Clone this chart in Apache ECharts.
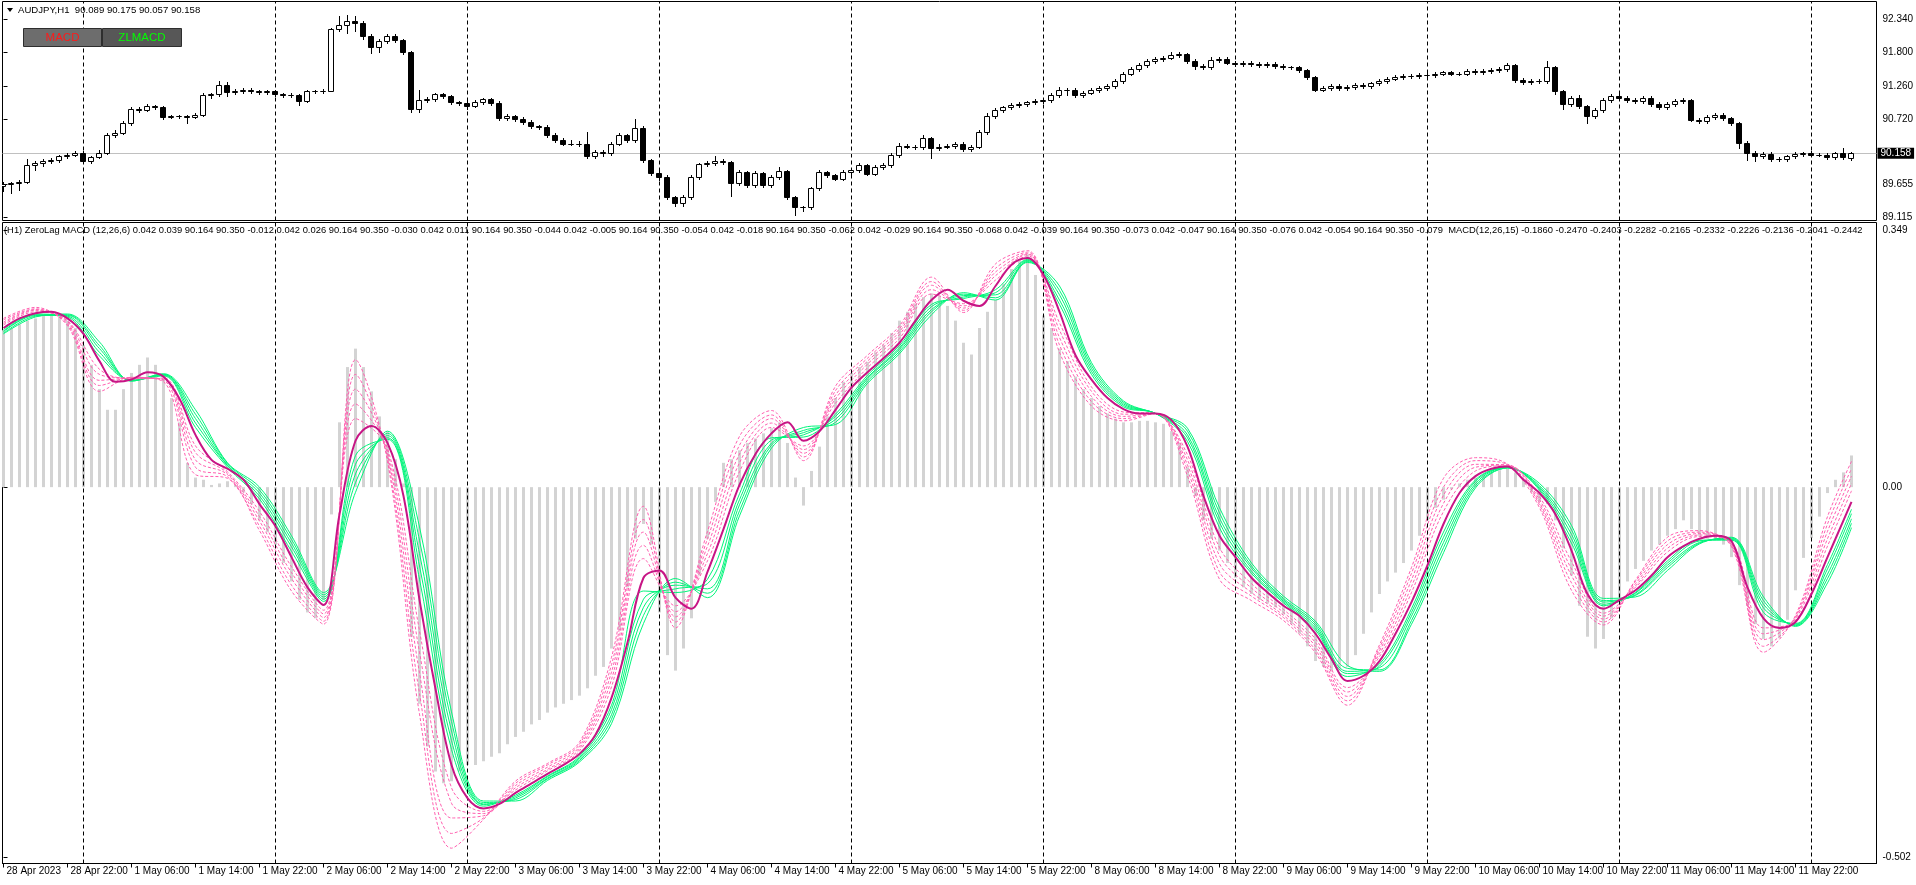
<!DOCTYPE html>
<html><head><meta charset="utf-8">
<script src="https://cdn.jsdelivr.net/npm/echarts@6/dist/echarts.min.js"></script>
<style>html,body{margin:0;padding:0;background:#fff;}#chart{width:1916px;height:885px;}</style>
</head><body><div id="chart"></div>
<script>
// ---------------- DATA ----------------
const symbolTitle = 'AUDJPY,H1';
const lastOHLC = ['90.089', '90.175', '90.057', '90.158'];
const currentPrice = 90.158;

// x-axis tick labels (every 8 H1 bars), bar index of each label
const tickBars = [0,8,16,24,32,40,48,56,64,72,80,88,96,104,112,120,128,136,144,152,160,168,176,184,192,200,208,216,224];
const timeLabels = ['28 Apr 2023','28 Apr 22:00','1 May 06:00','1 May 14:00','1 May 22:00','2 May 06:00','2 May 14:00','2 May 22:00','3 May 06:00','3 May 14:00','3 May 22:00','4 May 06:00','4 May 14:00','4 May 22:00','5 May 06:00','5 May 14:00','5 May 22:00','8 May 06:00','8 May 14:00','8 May 22:00','9 May 06:00','9 May 14:00','9 May 22:00','10 May 06:00','10 May 14:00','10 May 22:00','11 May 06:00','11 May 14:00','11 May 22:00'];
// day separators (bar index of 00:00 of each day)
const daySeparators = [10,34,58,82,106,130,154,178,202,226];

const priceTicks = [92.340, 91.800, 91.260, 90.720, 89.655, 89.115];
const macdTicks = [0.349, 0, -0.502];
const macdTickLabels = ['0.349', '0.00', '-0.502'];

const opens = [
89.63,89.66,89.68,89.70,89.97,90.00,90.04,90.06,90.11,90.14,
90.17,90.04,90.10,90.17,90.46,90.49,90.65,90.88,90.87,90.93,
90.91,90.76,90.77,90.77,90.76,90.79,91.11,91.12,91.27,91.16,
91.18,91.20,91.18,91.16,91.17,91.12,91.11,91.11,91.01,91.17,
91.18,91.18,92.18,92.26,92.31,92.29,92.08,91.90,91.99,92.07,
92.00,91.81,90.89,91.03,91.04,91.12,91.09,91.00,90.98,90.94,
91.00,91.04,90.98,90.73,90.77,90.72,90.67,90.61,90.59,90.46,
90.38,90.32,90.32,90.31,90.12,90.19,90.16,90.32,90.46,90.38,
90.57,90.05,89.84,89.78,89.45,89.35,89.45,89.78,89.98,90.00,
90.04,90.02,89.68,89.86,89.64,89.84,89.64,89.78,89.87,89.45,
89.29,89.28,89.60,89.86,89.81,89.75,89.86,89.89,89.97,89.83,
89.94,89.97,90.13,90.28,90.27,90.26,90.41,90.24,90.27,90.28,
90.32,90.23,90.27,90.51,90.77,90.87,90.91,90.95,90.97,90.99,
91.01,91.03,91.11,91.20,91.19,91.11,91.15,91.19,91.22,91.26,
91.34,91.46,91.54,91.60,91.66,91.70,91.72,91.76,91.78,91.66,
91.58,91.56,91.68,91.70,91.64,91.62,91.64,91.62,91.60,91.62,
91.58,91.56,91.56,91.52,91.40,91.20,91.22,91.26,91.22,91.24,
91.28,91.26,91.30,91.34,91.38,91.40,91.42,91.42,91.44,91.44,
91.46,91.48,91.46,91.46,91.50,91.48,91.50,91.52,91.54,91.60,
91.36,91.32,91.34,91.34,91.56,91.17,90.97,91.07,90.93,90.77,
90.87,91.03,91.09,91.07,91.03,91.01,91.07,90.97,90.91,90.97,
91.01,91.03,90.71,90.69,90.75,90.79,90.73,90.65,90.33,90.17,
90.11,90.15,90.07,90.07,90.11,90.15,90.16,90.14,90.14,90.10,
90.16,90.089];

const closes = [
89.66,89.68,89.70,89.97,90.00,90.04,90.06,90.11,90.14,90.17,
90.04,90.10,90.17,90.46,90.49,90.65,90.88,90.87,90.93,90.91,
90.76,90.77,90.77,90.76,90.79,91.11,91.12,91.27,91.16,91.18,
91.20,91.18,91.16,91.17,91.12,91.11,91.11,91.01,91.17,91.18,
91.18,92.18,92.26,92.31,92.29,92.08,91.90,91.99,92.07,92.00,
91.81,90.89,91.03,91.04,91.12,91.09,91.00,90.98,90.94,91.00,
91.04,90.98,90.73,90.77,90.72,90.67,90.61,90.59,90.46,90.38,
90.32,90.32,90.31,90.12,90.19,90.16,90.32,90.46,90.38,90.57,
90.05,89.84,89.78,89.45,89.35,89.45,89.78,89.98,90.00,90.04,
90.02,89.68,89.86,89.64,89.84,89.64,89.78,89.87,89.45,89.29,
89.28,89.60,89.86,89.81,89.75,89.86,89.89,89.97,89.83,89.94,
89.97,90.13,90.28,90.27,90.26,90.41,90.24,90.27,90.28,90.32,
90.23,90.27,90.51,90.77,90.87,90.91,90.95,90.97,90.99,91.01,
91.03,91.11,91.20,91.19,91.11,91.15,91.19,91.22,91.26,91.34,
91.46,91.54,91.60,91.66,91.70,91.72,91.76,91.78,91.66,91.58,
91.56,91.68,91.70,91.64,91.62,91.64,91.62,91.60,91.62,91.58,
91.56,91.56,91.52,91.40,91.20,91.22,91.26,91.22,91.24,91.28,
91.26,91.30,91.34,91.38,91.40,91.42,91.42,91.44,91.44,91.46,
91.48,91.46,91.46,91.50,91.48,91.50,91.52,91.54,91.60,91.36,
91.32,91.34,91.34,91.56,91.17,90.97,91.07,90.93,90.77,90.87,
91.03,91.09,91.07,91.03,91.01,91.07,90.97,90.91,90.97,91.01,
91.03,90.71,90.69,90.75,90.79,90.73,90.65,90.33,90.17,90.11,
90.15,90.07,90.07,90.11,90.15,90.16,90.14,90.14,90.10,90.16,
90.10,90.158];

// upper / lower wick lengths above/below the body, in hundredths of a yen
const wickUp = [
3,2,2,10,4,3,3,2,3,3, 3,2,4,3,5,3,3,3,3,2, 2,2,2,2,3,3,3,7,5,3, 3,3,2,2,3,2,4,2,3,2,
3,2,14,11,9,2,2,3,3,3, 2,2,17,4,3,2,2,2,3,3, 3,2,3,3,2,3,3,2,3,3, 3,6,4,20,3,3,3,3,2,15,
3,2,3,2,2,3,3,3,3,8, 3,2,3,2,3,2,3,7,2,2, 2,2,3,2,2,3,3,3,2,3, 3,3,5,3,3,5,2,5,3,3,
3,3,3,5,3,3,3,3,3,3, 3,3,4,3,3,3,3,3,3,3, 3,3,3,3,3,3,5,4,2,3, 3,5,3,3,3,3,3,3,3,3,
3,3,3,2,2,3,3,3,3,3, 3,3,3,3,3,3,3,3,3,3, 3,3,3,3,3,3,3,3,4,2, 3,3,3,10,2,3,3,4,2,3,
3,3,3,3,3,3,3,3,3,3, 3,2,3,3,3,2,2,2,3,3, 3,3,3,3,3,3,4,2,3,3, 8,2];
const wickDn = [
8,15,12,3,8,4,4,4,3,3, 3,4,2,2,3,2,2,3,2,2, 4,3,3,10,3,2,4,3,7,4, 3,3,3,3,3,3,3,6,2,3,
3,1,3,14,13,5,10,8,3,3, 3,5,5,3,2,3,3,3,5,3, 3,3,3,3,3,3,3,3,3,3, 3,3,3,3,3,4,3,3,3,3,
3,4,5,3,4,4,3,3,3,3, 3,22,3,3,3,3,3,3,3,14, 6,2,3,3,3,3,3,3,3,3, 3,3,3,3,3,3,15,3,3,3,
3,3,3,3,3,3,3,3,3,3, 3,3,3,8,3,3,3,3,3,3, 3,3,3,3,3,3,3,3,3,4, 3,3,3,3,3,3,3,3,3,3,
3,3,3,3,3,3,3,3,3,3, 3,3,3,3,3,3,3,3,3,3, 3,3,3,3,3,3,3,3,3,4, 3,3,3,3,4,8,3,3,12,3,
3,3,3,3,3,3,3,3,3,3, 3,3,3,3,3,3,3,8,12,8, 3,3,3,3,3,3,3,3,3,3, 3,3];

// histogram (per bar)
const histogram = [
0.213,0.216,0.221,0.226,0.229,0.233,0.233,0.233,0.226,0.216,
0.193,0.166,0.133,0.105,0.105,0.133,0.155,0.166,0.176,0.166,
0.146,0.121,0.088,0.033,0.013,0.010,0.003,0.005,0.008,0.003,
-0.007,-0.023,-0.045,-0.061,-0.078,-0.103,-0.128,-0.153,-0.170,-0.178,
-0.153,-0.037,0.088,0.163,0.188,0.163,0.130,0.096,0.076,0.038,
0.005,-0.203,-0.294,-0.352,-0.386,-0.402,-0.399,-0.386,-0.377,-0.377,
-0.372,-0.366,-0.361,-0.349,-0.339,-0.332,-0.322,-0.316,-0.306,-0.299,
-0.294,-0.289,-0.283,-0.273,-0.256,-0.244,-0.219,-0.194,-0.136,-0.070,
-0.050,-0.078,-0.170,-0.228,-0.249,-0.219,-0.178,-0.120,-0.070,-0.020,
0.033,0.038,0.050,0.060,0.066,0.073,0.080,0.088,0.060,0.013,
-0.025,0.022,0.055,0.096,0.121,0.143,0.155,0.163,0.170,0.183,
0.193,0.209,0.226,0.238,0.249,0.258,0.263,0.259,0.246,0.226,
0.196,0.180,0.216,0.238,0.254,0.276,0.296,0.309,0.316,0.288,
0.233,0.216,0.188,0.171,0.150,0.133,0.121,0.110,0.100,0.093,
0.088,0.088,0.090,0.090,0.088,0.086,0.076,0.060,0.027,-0.012,
-0.045,-0.070,-0.086,-0.103,-0.123,-0.136,-0.145,-0.153,-0.158,-0.163,
-0.173,-0.186,-0.199,-0.216,-0.236,-0.244,-0.249,-0.249,-0.244,-0.228,
-0.199,-0.170,-0.145,-0.128,-0.116,-0.103,-0.086,-0.066,-0.045,-0.028,
-0.017,-0.003,0.005,0.010,0.013,0.017,0.020,0.023,0.025,0.020,
0.010,-0.007,-0.020,-0.023,-0.045,-0.083,-0.120,-0.161,-0.203,-0.219,
-0.206,-0.178,-0.150,-0.128,-0.111,-0.100,-0.086,-0.078,-0.066,-0.057,
-0.045,-0.057,-0.066,-0.070,-0.070,-0.078,-0.095,-0.133,-0.161,-0.186,
-0.206,-0.216,-0.205,-0.180,-0.140,-0.096,-0.069,-0.040,-0.008,0.010,
0.020,0.043];

// main ZeroLag MACD line, [bar, value]
const zlMain = [[0,0.216],[2,0.229],[4,0.236],[6,0.238],[8,0.229],[10,0.208],[12,0.171],[14,0.143],[16,0.146],[18,0.156],[20,0.150],[22,0.120],[24,0.071],[26,0.037],[28,0.025],[30,0.010],[32,-0.023],[34,-0.053],[36,-0.095],[38,-0.136],[40,-0.160],[42,-0.037],[44,0.063],[46,0.083],[48,0.060],[50,-0.012],[52,-0.153],[54,-0.274],[56,-0.377],[58,-0.422],[60,-0.436],[62,-0.430],[64,-0.415],[66,-0.402],[68,-0.389],[70,-0.377],[72,-0.362],[74,-0.336],[76,-0.286],[78,-0.211],[80,-0.123],[82,-0.113],[84,-0.150],[86,-0.165],[88,-0.115],[90,-0.057],[92,0.003],[94,0.045],[96,0.073],[98,0.088],[100,0.063],[102,0.076],[104,0.105],[106,0.135],[108,0.156],[110,0.175],[112,0.196],[114,0.226],[116,0.254],[118,0.268],[120,0.253],[122,0.246],[124,0.273],[126,0.302],[128,0.311],[130,0.288],[132,0.238],[134,0.179],[136,0.146],[138,0.121],[140,0.106],[142,0.100],[144,0.100],[146,0.091],[148,0.055],[150,-0.012],[152,-0.066],[154,-0.095],[156,-0.123],[158,-0.143],[160,-0.161],[162,-0.175],[164,-0.199],[166,-0.233],[168,-0.263],[170,-0.256],[172,-0.236],[174,-0.199],[176,-0.156],[178,-0.106],[180,-0.050],[182,-0.008],[184,0.015],[186,0.025],[188,0.028],[190,0.010],[192,-0.008],[194,-0.037],[196,-0.086],[198,-0.145],[200,-0.165],[202,-0.153],[204,-0.140],[206,-0.120],[208,-0.095],[210,-0.080],[212,-0.070],[214,-0.066],[216,-0.073],[218,-0.136],[220,-0.178],[222,-0.191],[224,-0.183],[226,-0.145],[228,-0.095],[230,-0.045],[231,-0.020]];

// signal lines sampled every 4 bars
const sigBars = [0,4,8,12,16,20,24,28,32,36,40,44,48,52,56,60,64,68,72,76,80,84,88,92,96,100,104,108,112,116,120,124,128,132,136,140,144,148,152,156,160,164,168,172,176,180,184,188,192,196,200,204,208,212,216,220,224,228,231];
const green1 = [0.214,0.235,0.231,0.178,0.145,0.151,0.081,0.027,-0.016,-0.087,-0.155,0.043,0.065,-0.125,-0.356,-0.433,-0.418,-0.392,-0.365,-0.296,-0.141,-0.143,-0.125,-0.009,0.067,0.068,0.099,0.152,0.192,0.248,0.256,0.268,0.309,0.248,0.153,0.109,0.100,0.062,-0.055,-0.117,-0.157,-0.194,-0.257,-0.240,-0.165,-0.061,0.010,0.027,-0.004,-0.076,-0.161,-0.143,-0.100,-0.072,-0.072,-0.170,-0.185,-0.105,-0.030];
const green2 = [0.212,0.234,0.232,0.183,0.145,0.152,0.087,0.029,-0.012,-0.081,-0.152,0.031,0.067,-0.107,-0.344,-0.431,-0.420,-0.393,-0.367,-0.302,-0.152,-0.138,-0.131,-0.017,0.064,0.071,0.096,0.149,0.189,0.245,0.258,0.264,0.308,0.254,0.157,0.111,0.100,0.067,-0.048,-0.114,-0.155,-0.191,-0.253,-0.243,-0.170,-0.068,0.008,0.027,-0.002,-0.070,-0.159,-0.144,-0.103,-0.073,-0.071,-0.164,-0.186,-0.111,-0.036];
const green3 = [0.211,0.233,0.233,0.188,0.145,0.153,0.093,0.030,-0.008,-0.076,-0.149,0.018,0.070,-0.090,-0.331,-0.430,-0.422,-0.395,-0.369,-0.309,-0.163,-0.133,-0.138,-0.024,0.060,0.074,0.092,0.147,0.187,0.241,0.260,0.261,0.307,0.261,0.161,0.113,0.100,0.071,-0.042,-0.110,-0.153,-0.188,-0.250,-0.245,-0.175,-0.075,0.005,0.027,0.000,-0.064,-0.156,-0.146,-0.106,-0.075,-0.070,-0.159,-0.187,-0.118,-0.043];
const green4 = [0.209,0.232,0.234,0.192,0.144,0.153,0.099,0.032,-0.004,-0.071,-0.146,0.006,0.073,-0.072,-0.318,-0.428,-0.424,-0.396,-0.371,-0.315,-0.174,-0.129,-0.144,-0.032,0.057,0.077,0.088,0.144,0.184,0.238,0.262,0.257,0.306,0.267,0.165,0.115,0.100,0.076,-0.035,-0.107,-0.151,-0.185,-0.246,-0.248,-0.181,-0.082,0.002,0.026,0.002,-0.058,-0.154,-0.147,-0.109,-0.076,-0.069,-0.154,-0.188,-0.124,-0.049];
const green5 = [0.208,0.231,0.235,0.197,0.144,0.154,0.105,0.033,0.000,-0.066,-0.143,-0.007,0.076,-0.054,-0.305,-0.426,-0.426,-0.398,-0.373,-0.321,-0.185,-0.124,-0.150,-0.039,0.053,0.081,0.085,0.141,0.181,0.234,0.264,0.254,0.305,0.273,0.169,0.117,0.100,0.080,-0.028,-0.103,-0.148,-0.182,-0.242,-0.250,-0.186,-0.089,-0.001,0.026,0.005,-0.052,-0.151,-0.149,-0.113,-0.077,-0.068,-0.149,-0.189,-0.130,-0.055];
const pink1 = [0.220,0.238,0.226,0.160,0.147,0.148,0.056,0.021,-0.033,-0.108,-0.167,0.093,0.053,-0.195,-0.408,-0.440,-0.411,-0.385,-0.358,-0.271,-0.097,-0.161,-0.100,0.021,0.081,0.056,0.114,0.162,0.202,0.262,0.249,0.281,0.314,0.223,0.136,0.102,0.100,0.044,-0.082,-0.131,-0.166,-0.206,-0.272,-0.230,-0.143,-0.033,0.022,0.029,-0.013,-0.101,-0.171,-0.136,-0.088,-0.067,-0.075,-0.191,-0.181,-0.080,-0.005];
const pink2 = [0.222,0.240,0.225,0.153,0.148,0.147,0.047,0.019,-0.040,-0.116,-0.172,0.113,0.049,-0.224,-0.429,-0.443,-0.408,-0.383,-0.355,-0.261,-0.079,-0.169,-0.090,0.033,0.087,0.051,0.120,0.167,0.207,0.268,0.246,0.287,0.316,0.213,0.130,0.099,0.100,0.037,-0.093,-0.137,-0.170,-0.211,-0.278,-0.226,-0.135,-0.022,0.027,0.030,-0.017,-0.111,-0.175,-0.134,-0.083,-0.065,-0.077,-0.199,-0.179,-0.070,0.005];
const pink3 = [0.224,0.241,0.223,0.145,0.148,0.146,0.037,0.017,-0.046,-0.124,-0.177,0.133,0.044,-0.252,-0.449,-0.446,-0.405,-0.380,-0.352,-0.251,-0.061,-0.176,-0.080,0.045,0.093,0.046,0.125,0.171,0.211,0.274,0.243,0.292,0.317,0.203,0.123,0.096,0.100,0.030,-0.104,-0.143,-0.174,-0.216,-0.284,-0.222,-0.126,-0.011,0.031,0.030,-0.021,-0.120,-0.179,-0.131,-0.078,-0.063,-0.078,-0.207,-0.177,-0.060,0.015];
const pink4 = [0.227,0.242,0.221,0.138,0.149,0.145,0.027,0.014,-0.053,-0.133,-0.182,0.153,0.039,-0.280,-0.470,-0.449,-0.402,-0.377,-0.349,-0.241,-0.044,-0.183,-0.070,0.057,0.098,0.041,0.131,0.175,0.215,0.279,0.240,0.297,0.319,0.193,0.116,0.093,0.100,0.023,-0.115,-0.148,-0.177,-0.221,-0.290,-0.218,-0.117,0.000,0.036,0.031,-0.024,-0.130,-0.183,-0.128,-0.073,-0.061,-0.079,-0.216,-0.176,-0.050,0.025];
const pink5 = [0.229,0.244,0.219,0.130,0.149,0.143,0.017,0.012,-0.059,-0.141,-0.186,0.173,0.035,-0.308,-0.490,-0.451,-0.399,-0.375,-0.346,-0.231,-0.026,-0.191,-0.060,0.069,0.104,0.036,0.137,0.179,0.219,0.285,0.237,0.303,0.321,0.183,0.110,0.090,0.100,0.015,-0.125,-0.154,-0.181,-0.225,-0.296,-0.214,-0.109,0.012,0.040,0.031,-0.028,-0.140,-0.187,-0.126,-0.068,-0.059,-0.081,-0.224,-0.174,-0.040,0.035];

const zlHeaderName = '(H1) ZeroLag MACD (12,26,6)';
const zlHeaderValues = ['0.042','0.039','90.164','90.350','-0.012','0.042','0.026','90.164','90.350','-0.030','0.042','0.011','90.164','90.350','-0.044','0.042','-0.005','90.164','90.350','-0.054','0.042','-0.018','90.164','90.350','-0.062','0.042','-0.029','90.164','90.350','-0.068','0.042','-0.039','90.164','90.350','-0.073','0.042','-0.047','90.164','90.350','-0.076','0.042','-0.054','90.164','90.350','-0.079'];
const macdHeaderName = 'MACD(12,26,15)';
const macdHeaderValues = ['-0.1860','-0.2470','-0.2403','-0.2282','-0.2165','-0.2332','-0.2226','-0.2136','-0.2041','-0.2442'];

// ---------------- CHECKS ----------------
const nBars = closes.length;
[['opens',opens],['wickUp',wickUp],['wickDn',wickDn],['histogram',histogram]].forEach(([n,a]) => {
  if (a.length !== nBars) throw new Error(n + ' length ' + a.length + ' != ' + nBars);
});
const greens = [green1, green2, green3, green4, green5];
const pinks = [pink1, pink2, pink3, pink4, pink5];
greens.concat(pinks).forEach((a, k) => {
  if (a.length !== sigBars.length) throw new Error('signal ' + k + ' length ' + a.length);
});

// ---------------- CHART ----------------
const FONT = 'Liberation Sans';
const candleData = closes.map((c, i) => [i, opens[i], c,
  Math.min(opens[i], c) - wickDn[i] / 100, Math.max(opens[i], c) + wickUp[i] / 100]);

const X_MIN = -0.125, X_MAX = 234.125;
const sepLines = daySeparators.map(b => ({ xAxis: b }));
const sepStyle = { color: '#000', width: 1, type: [4, 3] };

const chart = echarts.init(document.getElementById('chart'), null, { renderer: 'canvas' });

const series = [];
// candles
series.push({
  type: 'custom', name: 'AUDJPY', xAxisIndex: 0, yAxisIndex: 0, clip: true, z: 5,
  data: candleData, encode: { x: 0, y: [1, 2, 3, 4] },
  renderItem: function (params, api) {
    const i = api.value(0), o = api.value(1), c = api.value(2), l = api.value(3), h = api.value(4);
    const pO = api.coord([i, o]), pC = api.coord([i, c]), pL = api.coord([i, l]), pH = api.coord([i, h]);
    const x = Math.round(pO[0] - 0.5) + 0.5;
    const y1 = Math.round(Math.min(pO[1], pC[1])) + 0.5;
    const y2 = Math.round(Math.max(pO[1], pC[1])) + 0.5;
    const up = c >= o;
    return {
      type: 'group',
      children: [
        { type: 'line', shape: { x1: x, y1: Math.round(pH[1]), x2: x, y2: Math.round(pL[1]) + 1 },
          style: { stroke: '#000', lineWidth: 1 } },
        { type: 'rect', shape: { x: x - 3, y: y1, width: 5, height: y2 - y1 },
          style: { fill: up ? '#fff' : '#000', stroke: '#000', lineWidth: 1 } }
      ]
    };
  }
});
// price line + day separators in price pane
series.push({
  type: 'line', xAxisIndex: 0, yAxisIndex: 0, data: [[0, currentPrice]], showSymbol: false, symbol: 'none',
  lineStyle: { width: 0 }, silent: true, z: 1,
  markLine: {
    silent: true, symbol: ['none', 'none'], animation: false,
    data: [
      ...sepLines.map(d => Object.assign({ lineStyle: sepStyle, label: { show: false } }, d)),
      { yAxis: currentPrice, lineStyle: { color: '#c0c0c0', width: 1, type: 'solid' },
        label: { show: true, position: 'end', formatter: currentPrice.toFixed(3), color: '#fff',
          backgroundColor: '#000', padding: [1, 3, 0, 3], fontSize: 10, fontFamily: FONT, distance: 1 } }
    ]
  }
});
// histogram
series.push({
  type: 'bar', xAxisIndex: 1, yAxisIndex: 1, barWidth: 3, z: 1,
  data: histogram.map((v, i) => [i, v]), itemStyle: { color: '#d3d3d3' }, silent: true,
  markLine: { silent: true, symbol: ['none', 'none'], animation: false,
    data: sepLines.map(d => Object.assign({ lineStyle: sepStyle, label: { show: false } }, d)) }
});
greens.forEach((arr) => series.push({
  type: 'line', xAxisIndex: 1, yAxisIndex: 1, smooth: 0.35, showSymbol: false, symbol: 'none', z: 3, silent: true,
  data: arr.map((v, k) => [sigBars[k], v]), lineStyle: { color: '#00f57a', width: 1 }
}));
pinks.forEach((arr) => series.push({
  type: 'line', xAxisIndex: 1, yAxisIndex: 1, smooth: 0.35, showSymbol: false, symbol: 'none', z: 4, silent: true,
  data: arr.map((v, k) => [sigBars[k], v]), lineStyle: { color: '#ff5fb0', width: 1, type: [3, 2] }
}));
series.push({
  type: 'line', xAxisIndex: 1, yAxisIndex: 1, smooth: 0.35, showSymbol: false, symbol: 'none', z: 5, silent: true,
  data: zlMain, lineStyle: { color: '#c71585', width: 2 }
});

const headerText = zlHeaderName + ' ' + zlHeaderValues.join(' ') + '  ' + macdHeaderName + ' ' + macdHeaderValues.join(' ');

const option = {
  animation: false,
  backgroundColor: '#fff',
  grid: [
    { left: 2.5, top: 1.5, width: 1874, height: 219, show: true, borderColor: '#000', borderWidth: 1,
      backgroundColor: 'transparent', containLabel: false, outerBoundsMode: 'none' },
    { left: 2.5, top: 222.5, width: 1874, height: 641, show: true, borderColor: '#000', borderWidth: 1,
      backgroundColor: 'transparent', containLabel: false, outerBoundsMode: 'none' }
  ],
  xAxis: [
    { type: 'value', gridIndex: 0, min: X_MIN, max: X_MAX, show: false, splitLine: { show: false } },
    { type: 'value', gridIndex: 1, min: X_MIN, max: X_MAX, position: 'bottom',
      splitLine: { show: false },
      axisLine: { show: true, onZero: false, lineStyle: { color: '#000', width: 1 } },
      axisTick: { show: true, length: 4, customValues: tickBars, lineStyle: { color: '#000' } },
      axisLabel: { show: true, customValues: tickBars, align: 'left', margin: 3, padding: [0, 0, 0, 3],
        color: '#000', fontSize: 10, fontFamily: FONT,
        formatter: v => timeLabels[tickBars.indexOf(Math.round(v))] || '' } }
  ],
  yAxis: [
    { type: 'value', gridIndex: 0, position: 'right', min: 89.066, max: 92.635,
      splitLine: { show: false }, axisLine: { show: false },
      axisTick: { show: true, length: 4, customValues: priceTicks, lineStyle: { color: '#000' } },
      axisLabel: { show: true, customValues: priceTicks, margin: 6, color: '#000', fontSize: 10, fontFamily: FONT,
        formatter: v => Number(v).toFixed(3) } },
    { type: 'value', gridIndex: 1, position: 'right', min: -0.5108, max: 0.3592,
      splitLine: { show: false }, axisLine: { show: false },
      axisTick: { show: true, length: 4, customValues: macdTicks, lineStyle: { color: '#000' } },
      axisLabel: { show: true, customValues: macdTicks, margin: 6, color: '#000', fontSize: 10, fontFamily: FONT,
        formatter: v => { const k = macdTicks.findIndex(t => Math.abs(t - v) < 1e-6); return k >= 0 ? macdTickLabels[k] : ''; } } }
  ],
  graphic: [
    { type: 'polygon', shape: { points: [[7, 8], [13, 8], [10, 12]] }, style: { fill: '#000' }, z: 100 },
    { type: 'text', x: 18, y: 10, z: 100,
      style: { text: symbolTitle + '  ' + lastOHLC.join(' '), fill: '#000', fontSize: 9.6, fontFamily: FONT, verticalAlign: 'middle' } },
    { type: 'rect', shape: { x: 23.5, y: 28.5, width: 78, height: 18 }, z: 100,
      style: { fill: '#6d6d6d', stroke: '#2e2e2e', lineWidth: 1 } },
    { type: 'text', x: 62.5, y: 38, z: 101,
      style: { text: 'MACD', fill: '#ff1a1a', fontSize: 11.5, fontFamily: FONT, align: 'center', verticalAlign: 'middle' } },
    { type: 'rect', shape: { x: 102.5, y: 28.5, width: 79, height: 18 }, z: 100,
      style: { fill: '#575757', stroke: '#2e2e2e', lineWidth: 1 } },
    { type: 'text', x: 142, y: 38, z: 101,
      style: { text: 'ZLMACD', fill: '#00ff00', fontSize: 11.5, fontFamily: FONT, align: 'center', verticalAlign: 'middle' } },
    { type: 'text', x: 4, y: 230, z: 100,
      style: { text: headerText, fill: '#000', fontSize: 9.4, fontFamily: FONT, verticalAlign: 'middle' } }
  ],
  series: series
};
chart.setOption(option);
</script></body></html>
